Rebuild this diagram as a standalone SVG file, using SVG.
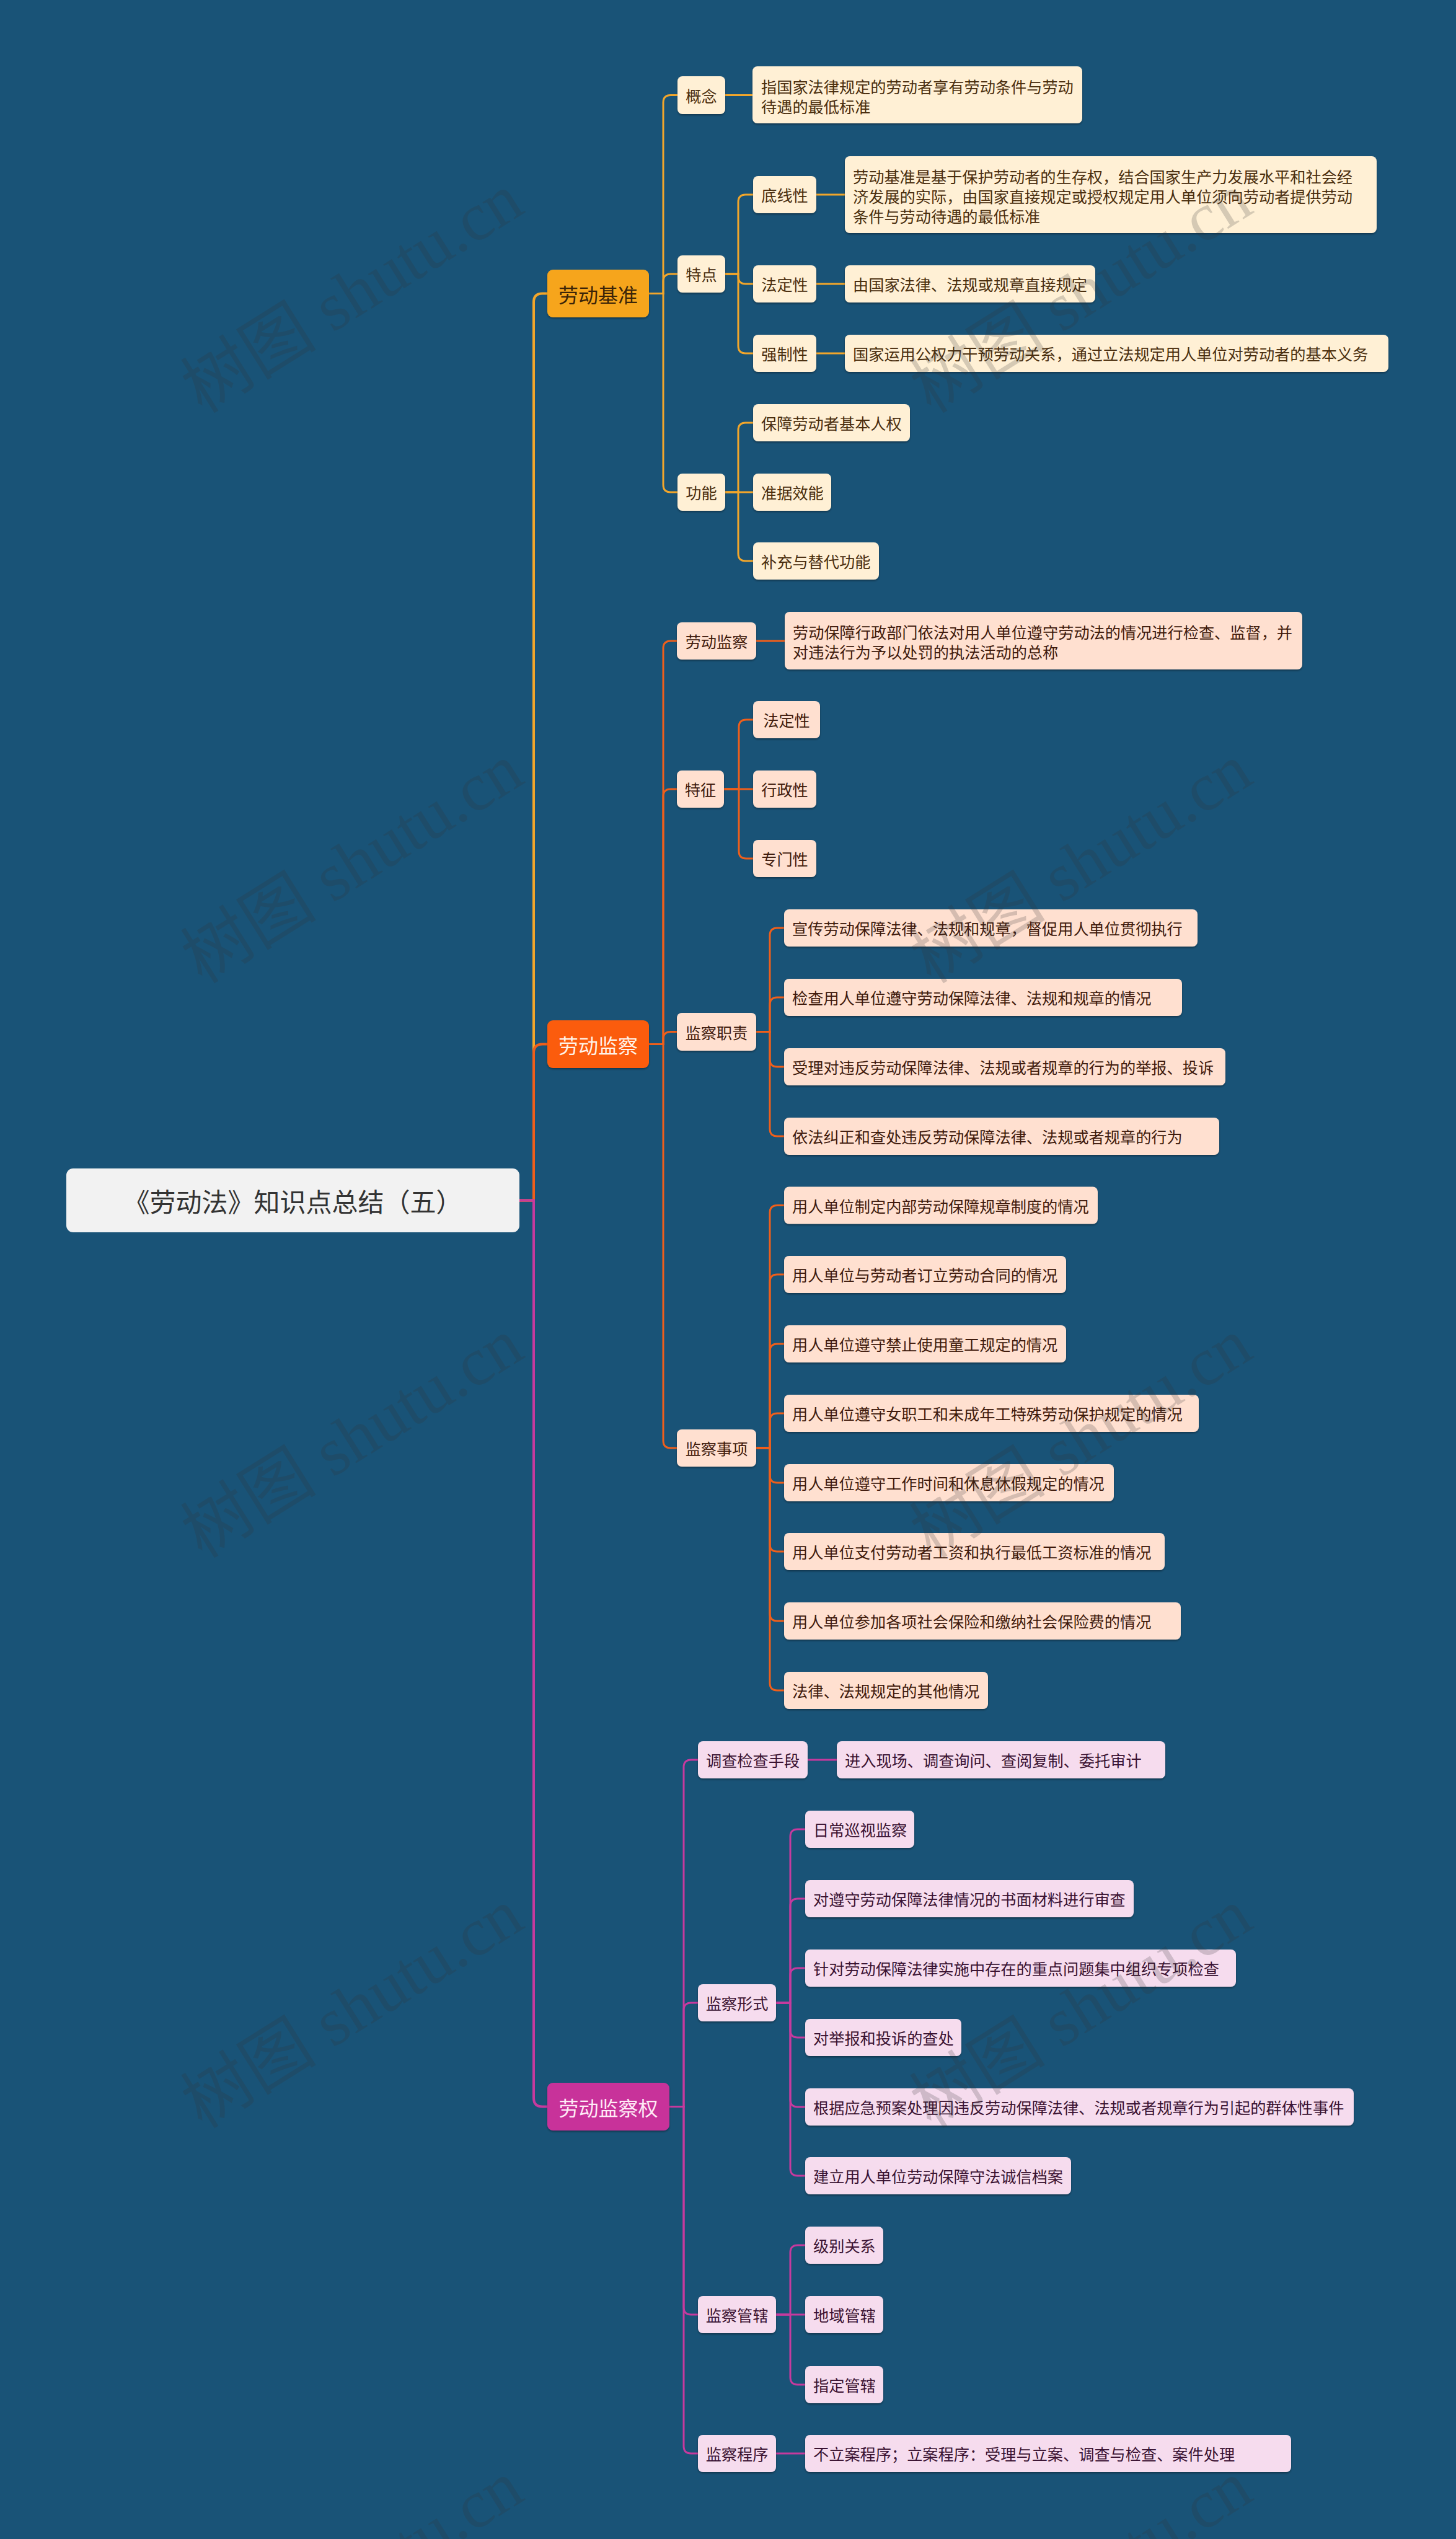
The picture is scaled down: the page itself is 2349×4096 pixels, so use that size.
<svg xmlns="http://www.w3.org/2000/svg" width="2349" height="4096" viewBox="0 0 2349 4096">
<defs>
<filter id="sh" x="-5%" y="-10%" width="110%" height="130%"><feDropShadow dx="0" dy="2" stdDeviation="1.5" flood-color="#000" flood-opacity="0.35"/></filter>
<style>
text{font-family:"Noto Sans CJK SC","Noto Sans",sans-serif;dominant-baseline:central}
.t0{font-size:42px;fill:#333;text-anchor:middle}
.t1{font-size:32px;text-anchor:middle}
.t3{font-size:25.2px}
.m{text-anchor:middle}
.ca{fill:none;stroke:#F2A62B;stroke-width:3}
.cb{fill:none;stroke:#EF5F1B;stroke-width:3}
.cc{fill:none;stroke:#C63A9E;stroke-width:3}
.w4{stroke-width:4}
.ba rect{fill:#FFF0D5}
.ba text{fill:#4A2E0E}
.bb rect{fill:#FFE0D0}
.bb text{fill:#3F1A0C}
.bc rect{fill:#F6DCEE}
.bc text{fill:#3A1232}
.wm{font-family:"Liberation Serif","Noto Sans CJK SC",serif;font-size:110px;fill:#333;opacity:0.2;text-anchor:middle;dominant-baseline:auto}
</style>
</defs>
<rect x="0" y="0" width="2349" height="4096" fill="#195377"/>
<g id="connectors">
<path class="ca w4" d="M838,1936.5 H861 V487.5 Q861,473.5 875,473.5 H883"/>
<path class="cb w4" d="M838,1936.5 H861 V1698.5 Q861,1684.5 875,1684.5 H883"/>
<path class="cc w4" d="M838,1936.5 H861 V3384.5 Q861,3398.5 875,3398.5 H883"/>
<path class="ca" d="M1047,473.5 H1070 V165.5 Q1070,153.5 1082,153.5 H1093"/>
<path class="ca" d="M1047,473.5 H1070 V454 Q1070,442 1082,442 H1093"/>
<path class="ca" d="M1047,473.5 H1070 V782 Q1070,794 1082,794 H1093"/>
<path class="ca" d="M1170,153.5 H1214"/>
<path class="ca" d="M1170,442 H1191 V326 Q1191,314 1203,314 H1215"/>
<path class="ca" d="M1170,442 H1191 V446 Q1191,458 1203,458 H1215"/>
<path class="ca" d="M1170,442 H1191 V558 Q1191,570 1203,570 H1215"/>
<path class="ca" d="M1317,314 H1363 M1317,458 H1363 M1317,570 H1363"/>
<path class="ca" d="M1170,794 H1191 V694 Q1191,682 1203,682 H1215"/>
<path class="ca" d="M1170,794 H1215"/>
<path class="ca" d="M1170,794 H1191 V893 Q1191,905 1203,905 H1215"/>
<path class="cb" d="M1047,1684.5 H1070 V1046 Q1070,1034 1082,1034 H1092"/>
<path class="cb" d="M1047,1684.5 H1070 V1285 Q1070,1273 1082,1273 H1092"/>
<path class="cb" d="M1047,1684.5 H1070 V1676.5 Q1070,1664.5 1082,1664.5 H1092"/>
<path class="cb" d="M1047,1684.5 H1070 V2324 Q1070,2336 1082,2336 H1092"/>
<path class="cb" d="M1220,1034 H1266"/>
<path class="cb" d="M1168,1273 H1192 V1173 Q1192,1161 1204,1161 H1215"/>
<path class="cb" d="M1168,1273 H1215"/>
<path class="cb" d="M1168,1273 H1192 V1373 Q1192,1385 1204,1385 H1215"/>
<path class="cb" d="M1220,1664.5 H1242 V1509 Q1242,1497 1254,1497 H1265"/>
<path class="cb" d="M1220,1664.5 H1242 V1621 Q1242,1609 1254,1609 H1265"/>
<path class="cb" d="M1220,1664.5 H1242 V1709 Q1242,1721 1254,1721 H1265"/>
<path class="cb" d="M1220,1664.5 H1242 V1821 Q1242,1833 1254,1833 H1265"/>
<path class="cb" d="M1220,2336 H1242 V1956.5 Q1242,1944.5 1254,1944.5 H1265"/>
<path class="cb" d="M1220,2336 H1242 V2068 Q1242,2056 1254,2056 H1265"/>
<path class="cb" d="M1220,2336 H1242 V2180 Q1242,2168 1254,2168 H1265"/>
<path class="cb" d="M1220,2336 H1242 V2292 Q1242,2280 1254,2280 H1265"/>
<path class="cb" d="M1220,2336 H1242 V2380 Q1242,2392 1254,2392 H1265"/>
<path class="cb" d="M1220,2336 H1242 V2491 Q1242,2503 1254,2503 H1265"/>
<path class="cb" d="M1220,2336 H1242 V2603 Q1242,2615 1254,2615 H1265"/>
<path class="cb" d="M1220,2336 H1242 V2715 Q1242,2727 1254,2727 H1265"/>
<path class="cc" d="M1080,3398.5 H1103 V2851 Q1103,2839 1115,2839 H1126"/>
<path class="cc" d="M1080,3398.5 H1103 V3243 Q1103,3231 1115,3231 H1126"/>
<path class="cc" d="M1080,3398.5 H1103 V3722 Q1103,3734 1115,3734 H1126"/>
<path class="cc" d="M1080,3398.5 H1103 V3946 Q1103,3958 1115,3958 H1126"/>
<path class="cc" d="M1303,2839 H1350"/>
<path class="cc" d="M1252,3231 H1275 V2963 Q1275,2951 1287,2951 H1299"/>
<path class="cc" d="M1252,3231 H1275 V3075 Q1275,3063 1287,3063 H1299"/>
<path class="cc" d="M1252,3231 H1275 V3187 Q1275,3175 1287,3175 H1299"/>
<path class="cc" d="M1252,3231 H1275 V3275 Q1275,3287 1287,3287 H1299"/>
<path class="cc" d="M1252,3231 H1275 V3387 Q1275,3399 1287,3399 H1299"/>
<path class="cc" d="M1252,3231 H1275 V3498 Q1275,3510 1287,3510 H1299"/>
<path class="cc" d="M1252,3734 H1275 V3634 Q1275,3622 1287,3622 H1299"/>
<path class="cc" d="M1252,3734 H1299"/>
<path class="cc" d="M1252,3734 H1275 V3835 Q1275,3847 1287,3847 H1299"/>
<path class="cc" d="M1252,3958 H1299"/>
</g>
<g id="n-root"><rect x="107" y="1885" width="731" height="103" rx="11" fill="#F2F2F2"/><text class="t0" x="472.5" y="1936.5">《劳动法》知识点总结（五）</text></g>
<g id="n-A"><rect x="883" y="435" width="164" height="77" rx="9" fill="#F6A51F" filter="url(#sh)"/><text class="t1" x="965" y="473.5" fill="#3B2408">劳动基准</text></g>
<g id="n-B"><rect x="883" y="1646" width="164" height="77" rx="9" fill="#FB5C08" filter="url(#sh)"/><text class="t1" x="965" y="1684.5" fill="#FFF3EA">劳动监察</text></g>
<g id="n-C"><rect x="883" y="3360" width="197" height="77" rx="9" fill="#C8339A" filter="url(#sh)"/><text class="t1" x="981.5" y="3398.5" fill="#FFEAF6">劳动监察权</text></g>

<g class="ba">
<g id="n-A1"><rect x="1093" y="123" width="77" height="61" rx="8" filter="url(#sh)"/><text class="t3 m" x="1131.5" y="153.5">概念</text></g>
<g id="n-A1c"><rect x="1214" y="107" width="532" height="92" rx="8" filter="url(#sh)"/><text class="t3" x="1228" y="139">指国家法律规定的劳动者享有劳动条件与劳动</text><text class="t3" x="1228" y="171">待遇的最低标准</text></g>
<g id="n-A2"><rect x="1093" y="412" width="77" height="60" rx="8" filter="url(#sh)"/><text class="t3 m" x="1131.5" y="442">特点</text></g>
<g id="n-A21"><rect x="1215" y="284" width="102" height="60" rx="8" filter="url(#sh)"/><text class="t3 m" x="1266" y="314">底线性</text></g>
<g id="n-A21c"><rect x="1363" y="252" width="858" height="124" rx="8" filter="url(#sh)"/><text class="t3" x="1376" y="284">劳动基准是基于保护劳动者的生存权，结合国家生产力发展水平和社会经</text><text class="t3" x="1376" y="316">济发展的实际，由国家直接规定或授权规定用人单位须向劳动者提供劳动</text><text class="t3" x="1376" y="348">条件与劳动待遇的最低标准</text></g>
<g id="n-A22"><rect x="1215" y="428" width="102" height="60" rx="8" filter="url(#sh)"/><text class="t3 m" x="1266" y="458">法定性</text></g>
<g id="n-A22c"><rect x="1363" y="428" width="404" height="60" rx="8" filter="url(#sh)"/><text class="t3" x="1376" y="458">由国家法律、法规或规章直接规定</text></g>
<g id="n-A23"><rect x="1215" y="540" width="102" height="60" rx="8" filter="url(#sh)"/><text class="t3 m" x="1266" y="570">强制性</text></g>
<g id="n-A23c"><rect x="1363" y="540" width="877" height="60" rx="8" filter="url(#sh)"/><text class="t3" x="1376" y="570">国家运用公权力干预劳动关系，通过立法规定用人单位对劳动者的基本义务</text></g>
<g id="n-A3"><rect x="1093" y="764" width="77" height="60" rx="8" filter="url(#sh)"/><text class="t3 m" x="1131.5" y="794">功能</text></g>
<g id="n-A31"><rect x="1215" y="652" width="253" height="60" rx="8" filter="url(#sh)"/><text class="t3" x="1228" y="682">保障劳动者基本人权</text></g>
<g id="n-A32"><rect x="1215" y="764" width="126" height="60" rx="8" filter="url(#sh)"/><text class="t3" x="1228" y="794">准据效能</text></g>
<g id="n-A33"><rect x="1215" y="875" width="203" height="60" rx="8" filter="url(#sh)"/><text class="t3" x="1228" y="905">补充与替代功能</text></g>
</g>

<g class="bb">
<g id="n-B1"><rect x="1092" y="1004" width="128" height="60" rx="8" filter="url(#sh)"/><text class="t3 m" x="1156" y="1034">劳动监察</text></g>
<g id="n-B1c"><rect x="1266" y="987" width="835" height="93" rx="8" filter="url(#sh)"/><text class="t3" x="1279" y="1019">劳动保障行政部门依法对用人单位遵守劳动法的情况进行检查、监督，并</text><text class="t3" x="1279" y="1051">对违法行为予以处罚的执法活动的总称</text></g>
<g id="n-B2"><rect x="1092" y="1243" width="76" height="60" rx="8" filter="url(#sh)"/><text class="t3 m" x="1130" y="1273">特征</text></g>
<g id="n-B21"><rect x="1215" y="1131" width="108" height="60" rx="8" filter="url(#sh)"/><text class="t3 m" x="1269" y="1161">法定性</text></g>
<g id="n-B22"><rect x="1215" y="1243" width="102" height="60" rx="8" filter="url(#sh)"/><text class="t3 m" x="1266" y="1273">行政性</text></g>
<g id="n-B23"><rect x="1215" y="1355" width="102" height="60" rx="8" filter="url(#sh)"/><text class="t3 m" x="1266" y="1385">专门性</text></g>
<g id="n-B3"><rect x="1092" y="1634" width="128" height="61" rx="8" filter="url(#sh)"/><text class="t3 m" x="1156" y="1664.5">监察职责</text></g>
<g id="n-B31"><rect x="1265" y="1467" width="667" height="60" rx="8" filter="url(#sh)"/><text class="t3" x="1278" y="1497">宣传劳动保障法律、法规和规章，督促用人单位贯彻执行</text></g>
<g id="n-B32"><rect x="1265" y="1579" width="642" height="60" rx="8" filter="url(#sh)"/><text class="t3" x="1278" y="1609">检查用人单位遵守劳动保障法律、法规和规章的情况</text></g>
<g id="n-B33"><rect x="1265" y="1691" width="712" height="60" rx="8" filter="url(#sh)"/><text class="t3" x="1278" y="1721">受理对违反劳动保障法律、法规或者规章的行为的举报、投诉</text></g>
<g id="n-B34"><rect x="1265" y="1803" width="702" height="60" rx="8" filter="url(#sh)"/><text class="t3" x="1278" y="1833">依法纠正和查处违反劳动保障法律、法规或者规章的行为</text></g>
<g id="n-B4"><rect x="1092" y="2306" width="128" height="60" rx="8" filter="url(#sh)"/><text class="t3 m" x="1156" y="2336">监察事项</text></g>
<g id="n-B41"><rect x="1265" y="1914.5" width="506" height="60" rx="8" filter="url(#sh)"/><text class="t3" x="1278" y="1944.5">用人单位制定内部劳动保障规章制度的情况</text></g>
<g id="n-B42"><rect x="1265" y="2026" width="455" height="60" rx="8" filter="url(#sh)"/><text class="t3" x="1278" y="2056">用人单位与劳动者订立劳动合同的情况</text></g>
<g id="n-B43"><rect x="1265" y="2138" width="455" height="60" rx="8" filter="url(#sh)"/><text class="t3" x="1278" y="2168">用人单位遵守禁止使用童工规定的情况</text></g>
<g id="n-B44"><rect x="1265" y="2250" width="669" height="60" rx="8" filter="url(#sh)"/><text class="t3" x="1278" y="2280">用人单位遵守女职工和未成年工特殊劳动保护规定的情况</text></g>
<g id="n-B45"><rect x="1265" y="2362" width="532" height="60" rx="8" filter="url(#sh)"/><text class="t3" x="1278" y="2392">用人单位遵守工作时间和休息休假规定的情况</text></g>
<g id="n-B46"><rect x="1265" y="2473" width="614" height="60" rx="8" filter="url(#sh)"/><text class="t3" x="1278" y="2503">用人单位支付劳动者工资和执行最低工资标准的情况</text></g>
<g id="n-B47"><rect x="1265" y="2585" width="640" height="60" rx="8" filter="url(#sh)"/><text class="t3" x="1278" y="2615">用人单位参加各项社会保险和缴纳社会保险费的情况</text></g>
<g id="n-B48"><rect x="1265" y="2697" width="329" height="60" rx="8" filter="url(#sh)"/><text class="t3" x="1278" y="2727">法律、法规规定的其他情况</text></g>
</g>

<g class="bc">
<g id="n-C1"><rect x="1126" y="2809" width="177" height="60" rx="8" filter="url(#sh)"/><text class="t3 m" x="1214.5" y="2839">调查检查手段</text></g>
<g id="n-C1c"><rect x="1350" y="2809" width="530" height="60" rx="8" filter="url(#sh)"/><text class="t3" x="1363" y="2839">进入现场、调查询问、查阅复制、委托审计</text></g>
<g id="n-C2"><rect x="1126" y="3201" width="126" height="60" rx="8" filter="url(#sh)"/><text class="t3 m" x="1189" y="3231">监察形式</text></g>
<g id="n-C21"><rect x="1299" y="2921" width="176" height="60" rx="8" filter="url(#sh)"/><text class="t3" x="1312" y="2951">日常巡视监察</text></g>
<g id="n-C22"><rect x="1299" y="3033" width="530" height="60" rx="8" filter="url(#sh)"/><text class="t3" x="1312" y="3063">对遵守劳动保障法律情况的书面材料进行审查</text></g>
<g id="n-C23"><rect x="1299" y="3145" width="695" height="60" rx="8" filter="url(#sh)"/><text class="t3" x="1312" y="3175">针对劳动保障法律实施中存在的重点问题集中组织专项检查</text></g>
<g id="n-C24"><rect x="1299" y="3257" width="252" height="60" rx="8" filter="url(#sh)"/><text class="t3" x="1312" y="3287">对举报和投诉的查处</text></g>
<g id="n-C25"><rect x="1299" y="3369" width="885" height="60" rx="8" filter="url(#sh)"/><text class="t3" x="1312" y="3399">根据应急预案处理因违反劳动保障法律、法规或者规章行为引起的群体性事件</text></g>
<g id="n-C26"><rect x="1299" y="3480" width="429" height="60" rx="8" filter="url(#sh)"/><text class="t3" x="1312" y="3510">建立用人单位劳动保障守法诚信档案</text></g>
<g id="n-C3"><rect x="1126" y="3704" width="126" height="60" rx="8" filter="url(#sh)"/><text class="t3 m" x="1189" y="3734">监察管辖</text></g>
<g id="n-C31"><rect x="1299" y="3592" width="126" height="60" rx="8" filter="url(#sh)"/><text class="t3" x="1312" y="3622">级别关系</text></g>
<g id="n-C32"><rect x="1299" y="3704" width="126" height="60" rx="8" filter="url(#sh)"/><text class="t3" x="1312" y="3734">地域管辖</text></g>
<g id="n-C33"><rect x="1299" y="3817" width="126" height="60" rx="8" filter="url(#sh)"/><text class="t3" x="1312" y="3847">指定管辖</text></g>
<g id="n-C4"><rect x="1126" y="3928" width="126" height="60" rx="8" filter="url(#sh)"/><text class="t3 m" x="1189" y="3958">监察程序</text></g>
<g id="n-C4c"><rect x="1299" y="3928" width="784" height="60" rx="8" filter="url(#sh)"/><text class="t3" x="1312" y="3958">不立案程序；立案程序：受理与立案、调查与检查、案件处理</text></g>
</g>

<g id="watermarks">
<text class="wm" transform="translate(588,505) rotate(-32)">树图 shutu.cn</text>
<text class="wm" transform="translate(1764,505) rotate(-32)">树图 shutu.cn</text>
<text class="wm" transform="translate(588,1425) rotate(-32)">树图 shutu.cn</text>
<text class="wm" transform="translate(1764,1425) rotate(-32)">树图 shutu.cn</text>
<text class="wm" transform="translate(588,2352) rotate(-32)">树图 shutu.cn</text>
<text class="wm" transform="translate(1764,2352) rotate(-32)">树图 shutu.cn</text>
<text class="wm" transform="translate(588,3272) rotate(-32)">树图 shutu.cn</text>
<text class="wm" transform="translate(1764,3272) rotate(-32)">树图 shutu.cn</text>
<text class="wm" transform="translate(588,4195) rotate(-32)">树图 shutu.cn</text>
<text class="wm" transform="translate(1764,4195) rotate(-32)">树图 shutu.cn</text>
</g>
</svg>
